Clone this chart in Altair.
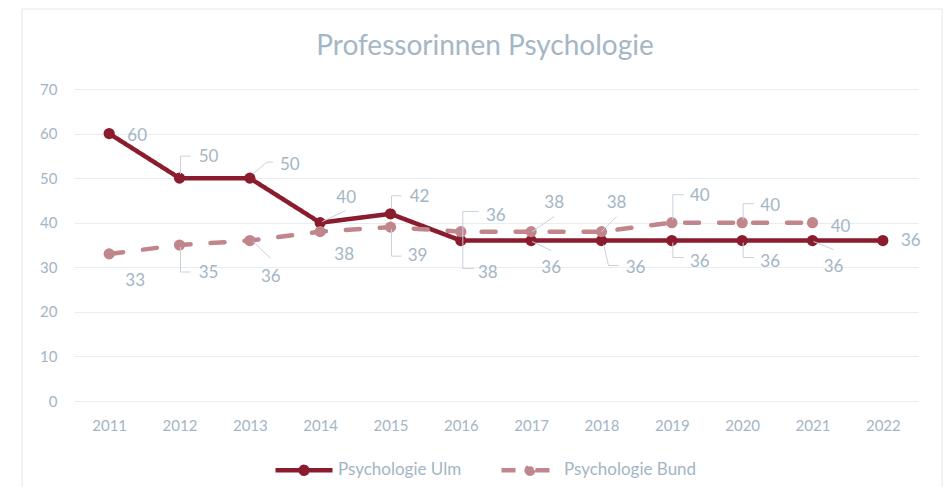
import altair as alt
import pandas as pd

# ---- data ----
years = ["2011", "2012", "2013", "2014", "2015", "2016", "2017", "2018", "2019", "2020", "2021", "2022"]
ulm = [60, 50, 50, 40, 42, 36, 36, 36, 36, 36, 36, 36]
bund = [33, 35, 36, 38, 39, 38, 38, 38, 40, 40, 40, None]
series_names = ["Psychologie Ulm", "Psychologie Bund"]

# ---- styles ----
colors = ["#8B1C2E", "#C0868B"]
TXT = "#A3B5C5"
LEADER = "#C7D2DC"
GRID = "#E8EDF2"
FONT = "Lato"

# label placement (pixel offsets from the data point) and leader segments
ulm_style = {
    "2011": (28, 2, []),
    "2012": (29, -21, [(1, -4, 1, -22), (1, -22, 11, -22)]),
    "2013": (40, -13, [(3, -4, 17, -16), (17, -16, 23, -16)]),
    "2014": (26, -25, [(2, -1, 25, -12)]),
    "2015": (29, -17, [(1, -5, 1, -18), (1, -18, 11, -18)]),
    "2016": (35, -25, [(2, -4, 2, -29), (2, -29, 18, -29)]),
    "2017": (20, 27, [(1, 1, 20, 10)]),
    "2018": (34, 27, [(2, 4, 7, 25), (7, 25, 17, 25)]),
    "2019": (28, 21, [(1, 2, 1, 17), (1, 17, 12, 17)]),
    "2020": (28, 21, [(1, 2, 1, 17), (1, 17, 12, 17)]),
    "2021": (21, 26, [(1, 1, 21, 9)]),
    "2022": (28, 0, []),
}
bund_style = {
    "2011": (26, 27, []),
    "2012": (29, 28, [(1, 2, 1, 27), (1, 27, 11, 27)]),
    "2013": (21, 36, [(3, 1, 21, 18)]),
    "2014": (24, 23, []),
    "2015": (27, 29, [(1, 2, 1, 29), (1, 29, 11, 29)]),
    "2016": (27, 41, [(2, 3, 2, 37), (2, 37, 13, 37)]),
    "2017": (23, -29, [(1, 0, 23, -15)]),
    "2018": (15, -29, [(0, 0, 15, -15)]),
    "2019": (28, -27, [(1, -3, 1, -28), (1, -28, 12, -28)]),
    "2020": (28, -17, [(1, -3, 1, -19), (1, -19, 12, -19)]),
    "2021": (28, 4, []),
}

rows = []
for y, v in zip(years, ulm):
    rows.append({"year": y, "value": v, "series": series_names[0]})
for y, v in zip(years, bund):
    if v is not None:
        rows.append({"year": y, "value": v, "series": series_names[1]})
df = pd.DataFrame(rows)

x_enc = alt.X(
    "year:O",
    scale=alt.Scale(type="point", padding=0.5),
    axis=alt.Axis(domain=False, ticks=False, grid=False, labelAngle=0, labelColor=TXT,
                  labelFontSize=15, labelFont=FONT, labelPadding=17),
    title=None,
)
y_enc = alt.Y(
    "value:Q",
    scale=alt.Scale(domain=[0, 70], nice=False),
    axis=alt.Axis(values=list(range(0, 80, 10)), domain=False, ticks=False, grid=True,
                  gridColor=GRID, gridWidth=1, labelColor=TXT, labelFontSize=15,
                  labelFont=FONT, labelPadding=17),
    title=None,
)

legend_path = ("M-1,0L1,0"
               "M0.12,0A0.12,0.12,0,1,1,-0.12,0A0.12,0.12,0,1,1,0.12,0"
               "M0.06,0A0.06,0.06,0,1,1,-0.06,0A0.06,0.06,0,1,1,0.06,0")
legend = alt.Legend(orient="none", legendX=199, legendY=350, direction="horizontal", title=None,
                    symbolType=legend_path, symbolSize=3249, symbolStrokeWidth=4.5,
                    labelFontSize=17, labelColor=TXT, labelFont=FONT, columnPadding=30,
                    labelOffset=3)
color_enc = alt.Color("series:N", scale=alt.Scale(domain=series_names, range=colors), legend=legend)
dash_enc = alt.StrokeDash("series:N", scale=alt.Scale(domain=series_names, range=[[1, 0], [14, 20]]),
                          legend=None)

border = alt.Chart(pd.DataFrame({"a": [0]})).mark_rect(
    fillOpacity=0, stroke="#E3E8EE", strokeWidth=1
).encode(x=alt.value(-52), x2=alt.value(868), y=alt.value(-80), y2=alt.value(430))

lines = alt.Chart(df).mark_line(strokeWidth=4.5, strokeCap="round").encode(
    x=x_enc, y=y_enc, color=color_enc, strokeDash=dash_enc
)
points = alt.Chart(df).mark_point(filled=True, size=125, opacity=1).encode(
    x=x_enc, y=y_enc, color=color_enc
)

layers = [border, lines, points]

for name, vals, style in [(series_names[0], ulm, ulm_style), (series_names[1], bund, bund_style)]:
    for y, v in zip(years, vals):
        if v is None:
            continue
        dx, dy, segs = style[y]
        one = pd.DataFrame({"year": [y], "value": [v], "label": [str(v)]})
        for (x1, y1, x2, y2) in segs:
            layers.append(
                alt.Chart(one).mark_rule(color=LEADER, strokeWidth=1,
                                         xOffset=x1, yOffset=y1, x2Offset=x2, y2Offset=y2)
                .encode(x=alt.X("year:O"), y=alt.Y("value:Q"), x2="year:O", y2="value:Q")
            )
        layers.append(
            alt.Chart(one).mark_text(dx=dx, dy=dy, fontSize=17, font=FONT, color=TXT,
                                     align="center", baseline="middle")
            .encode(x=alt.X("year:O"), y=alt.Y("value:Q"), text="label:N")
        )

chart = alt.layer(*layers).properties(
    width=844,
    height=312,
    padding={"left": 66, "top": 81, "right": 25, "bottom": 86},
    autosize=alt.AutoSizeParams(type="none"),
    title=alt.TitleParams("Professorinnen Psychologie", fontSize=28, font=FONT, fontWeight="normal",
                          color="#A5B6C5", anchor="middle", offset=-52, dx=-11),
).configure_view(stroke=None)

chart.save("out.html", embed_options={"renderer": "svg", "actions": False})
